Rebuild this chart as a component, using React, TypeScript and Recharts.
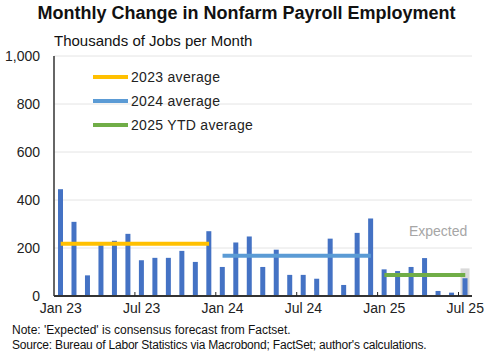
import React from 'react';
import {
  ComposedChart,
  Bar,
  Line,
  XAxis,
  YAxis,
  CartesianGrid,
  ReferenceDot,
} from 'recharts';

const months = [
  'Jan 23', 'Feb 23', 'Mar 23', 'Apr 23', 'May 23', 'Jun 23', 'Jul 23', 'Aug 23', 'Sep 23', 'Oct 23', 'Nov 23', 'Dec 23',
  'Jan 24', 'Feb 24', 'Mar 24', 'Apr 24', 'May 24', 'Jun 24', 'Jul 24', 'Aug 24', 'Sep 24', 'Oct 24', 'Nov 24', 'Dec 24',
  'Jan 25', 'Feb 25', 'Mar 25', 'Apr 25', 'May 25', 'Jun 25', 'Jul 25',
];

const payrolls = [
  445, 309, 86, 212, 230, 259, 149, 159, 159, 188, 142, 270,
  121, 223, 248, 121, 193, 88, 88, 72, 239, 46, 263, 323,
  111, 104, 121, 158, 21, 14, 74,
];

// expected (consensus) band for the last month only
const expectedBand = [
  null, null, null, null, null, null, null, null, null, null, null, null,
  null, null, null, null, null, null, null, null, null, null, null, null,
  null, null, null, null, null, null, 115,
];

const avg2023 = 218;
const avg2024 = 168;
const avg2025 = 88;

const yTicks = [0, 200, 400, 600, 800, 1000];

const data = months.map((m, i) => ({
  month: m,
  value: payrolls[i],
  expected: expectedBand[i],
  a23: i < 12 ? avg2023 : null,
  a24: i >= 12 && i < 24 ? avg2024 : null,
  a25: i >= 24 ? avg2025 : null,
}));

const FONT = '"Liberation Sans", Arial, sans-serif';
const BAND = (472 - 54) / months.length;

const MonthTick = ({ x, y, payload, index }: any) => (
  <g>
    {index > 0 && (
      <line x1={x - BAND / 2} x2={x - BAND / 2} y1={y} y2={y - 4} stroke="#222" strokeWidth={1} />
    )}
    <text x={x} y={y + 17} textAnchor="middle" fontSize={14} fill="#222" fontFamily={FONT}>
      {payload.value}
    </text>
  </g>
);

const legendItems = [
  { label: '2023 average', color: '#ffc000', top: 77 },
  { label: '2024 average', color: '#5b9bd5', top: 101 },
  { label: '2025 YTD average', color: '#70ad47', top: 125 },
];

export default function App() {
  return (
    <div
      style={{
        position: 'absolute',
        left: 0,
        top: 0,
        width: 493,
        height: 358,
        background: '#fff',
        fontFamily: FONT,
        color: '#111',
      }}
    >
      <div
        style={{
          position: 'absolute',
          top: 3,
          left: 0,
          width: 493,
          textAlign: 'center',
          fontSize: 18,
          fontWeight: 'bold',
        }}
      >
        Monthly Change in Nonfarm Payroll Employment
      </div>
      <div style={{ position: 'absolute', top: 32, left: 54, fontSize: 15 }}>
        Thousands of Jobs per Month
      </div>

      <div style={{ position: 'absolute', top: 0, left: 0 }}>
        <ComposedChart
          width={493}
          height={320}
          data={data}
          margin={{ top: 56, right: 21, left: 0, bottom: 4 }}
          barCategoryGap="62%"
        >
          <CartesianGrid stroke="#e4e4e4" vertical={false} horizontal />
          <XAxis
            dataKey="month"
            interval={5}
            height={20}
            tickSize={0}
            tickMargin={0}
            tick={<MonthTick />}
            axisLine={{ stroke: '#333', strokeWidth: 2 }}
            tickLine={false}
          />
          <XAxis
            xAxisId="band"
            dataKey="month"
            orientation="top"
            height={0}
            tick={false}
            tickLine={false}
            axisLine={{ stroke: '#555', strokeWidth: 1 }}
          />
          <YAxis
            width={54}
            domain={[0, 1000]}
            ticks={yTicks}
            tickFormatter={(v) => v.toLocaleString('en-US')}
            tick={{ fontSize: 14, fill: '#222', fontFamily: FONT }}
            tickLine={false}
            tickMargin={8}
            axisLine={{ stroke: '#333', strokeWidth: 1.5 }}
          />
          <YAxis
            yAxisId="right"
            orientation="right"
            width={0}
            domain={[0, 1000]}
            tick={false}
            tickLine={false}
            axisLine={{ stroke: '#555', strokeWidth: 1 }}
          />
          <Bar
            dataKey="expected"
            xAxisId="band"
            fill="#d9d9d9"
            barSize={9}
            isAnimationActive={false}
          />
          <Bar dataKey="value" fill="#4472c4" barSize={5} isAnimationActive={false} />
          <Line dataKey="a23" stroke="#ffc000" strokeWidth={4} dot={false} isAnimationActive={false} />
          <Line dataKey="a24" stroke="#5b9bd5" strokeWidth={4} dot={false} isAnimationActive={false} />
          <Line dataKey="a25" stroke="#70ad47" strokeWidth={4} dot={false} isAnimationActive={false} />
          <ReferenceDot
            x="Jul 25"
            y={271}
            r={0}
            label={{
              value: 'Expected',
              position: 'left',
              offset: -2,
              fontSize: 14,
              fill: '#a6a6a6',
              fontFamily: FONT,
            }}
          />
        </ComposedChart>
      </div>

      {legendItems.map((it) => (
        <div key={it.label} style={{ position: 'absolute', left: 93, top: it.top - 9, height: 18, display: 'flex', alignItems: 'center' }}>
          <div style={{ width: 35, height: 4, background: it.color, marginRight: 3 }} />
          <span style={{ fontSize: 14, color: '#222', letterSpacing: 0.3 }}>{it.label}</span>
        </div>
      ))}

      <div style={{ position: 'absolute', left: 12, top: 323, fontSize: 12, lineHeight: '15px', color: '#111' }}>
        <div>Note: 'Expected' is consensus forecast from Factset.</div>
        <div style={{ letterSpacing: -0.2 }}>
          Source: Bureau of Labor Statistics via Macrobond; FactSet; author's calculations.
        </div>
      </div>
    </div>
  );
}
